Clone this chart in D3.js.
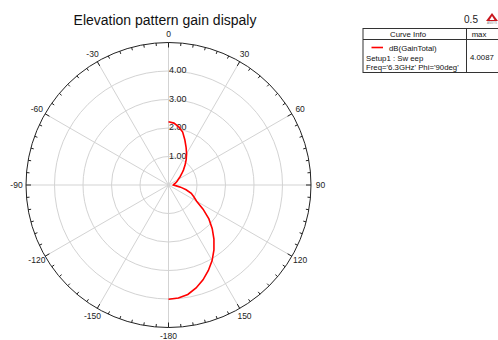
<!DOCTYPE html>
<html>
<head>
<meta charset="utf-8">
<script src="https://cdn.jsdelivr.net/npm/d3@7"></script>
<style>
  body { margin: 0; background: #fff; }
  svg { display: block; font-family: "Liberation Sans", Arial, sans-serif; }
</style>
</head>
<body>
<div id="chart"></div>
<script>
// theta in degrees (0 = top, clockwise), gain in dB
const thetaDeg = [0, 5, 10, 15, 20, 25, 30, 35, 40, 45, 50, 55, 60, 65, 70, 75, 80, 85, 90,
  95, 100, 105, 110, 115, 120, 125, 130, 135, 140, 145, 150, 155, 160, 165, 170, 175, 180];
const gainDb = [2.22, 2.18, 2.07, 1.92, 1.68, 1.46, 1.27, 1.08, 0.9, 0.74, 0.6, 0.49, 0.4, 0.34, 0.29, 0.25, 0.21, 0.18, 0.17,
  0.25, 0.43, 0.64, 0.85, 0.98, 1.14, 1.48, 1.85, 2.17, 2.48, 2.78, 3.06, 3.31, 3.54, 3.74, 3.9, 3.98, 4.01];
const angleLabels = [0, 30, 60, 90, 120, 150, -180, -150, -120, -90, -60, -30];
const ringValues = [1, 2, 3, 4];
const ringLabels = ["1.00", "2.00", "3.00", "4.00"];
const legendRows = ["Setup1 : Sw eep", "Freq='6.3GHz' Phi='90deg'"];
const maxValue = "4.0087";

(() => {
  const width = 498;
  const height = 340;
  const cx = 168.5;
  const cy = 185;
  const outerR = 142.5;

  const r = d3.scaleLinear().domain([0, 5]).range([0, outerR]);
  const rad = (d) => (d * Math.PI) / 180;

  const svg = d3
    .select("#chart")
    .append("svg")
    .attr("width", width)
    .attr("height", height);

  // Title
  svg.append("text")
    .attr("x", 165)
    .attr("y", 25)
    .attr("text-anchor", "middle")
    .style("font-size", "14px")
    .attr("fill", "#111")
    .text("Elevation pattern gain  dispaly");

  const g = svg.append("g").attr("transform", `translate(${cx},${cy})`);

  // grid rings
  g.selectAll(".ring")
    .data(ringValues)
    .join("circle")
    .attr("r", (d) => r(d))
    .attr("fill", "none")
    .attr("stroke", "#d3d3d3")
    .attr("stroke-width", 1);

  // spokes
  const spokes = d3.range(0, 360, 30);
  g.selectAll(".spoke")
    .data(spokes)
    .join("line")
    .attr("x1", 0)
    .attr("y1", 0)
    .attr("x2", (d) => outerR * Math.sin(rad(d)))
    .attr("y2", (d) => -outerR * Math.cos(rad(d)))
    .attr("stroke", "#d3d3d3")
    .attr("stroke-width", 1);

  // outer circle
  g.append("circle")
    .attr("r", outerR)
    .attr("fill", "none")
    .attr("stroke", "#222")
    .attr("stroke-width", 1);

  // ticks (inward)
  g.selectAll(".tick")
    .data(d3.range(0, 360, 5))
    .join("line")
    .attr("x1", (d) => outerR * Math.sin(rad(d)))
    .attr("y1", (d) => -outerR * Math.cos(rad(d)))
    .attr("x2", (d) => (outerR - (d % 30 === 0 ? 5 : 3)) * Math.sin(rad(d)))
    .attr("y2", (d) => -(outerR - (d % 30 === 0 ? 5 : 3)) * Math.cos(rad(d)))
    .attr("stroke", "#222")
    .attr("stroke-width", 1);

  // angle labels
  g.selectAll(".alabel")
    .data(angleLabels)
    .join("text")
    .attr("x", (d) => 152 * Math.sin(rad(d)))
    .attr("y", (d) => -151 * Math.cos(rad(d)))
    .attr("dy", "0.35em")
    .attr("text-anchor", "middle")
    .style("font-size", "8.5px")
    .attr("fill", "#222")
    .text((d) => d);

  // radial labels
  g.selectAll(".rlabel")
    .data(ringValues)
    .join("text")
    .attr("x", 0.5)
    .attr("y", (d) => -r(d) - 1)
    .attr("dy", "0.35em")
    .style("font-size", "9px")
    .attr("fill", "#222")
    .text((d, i) => ringLabels[i]);

  // curve
  const line = d3
    .lineRadial()
    .angle((d, i) => rad(thetaDeg[i]))
    .radius((d) => r(d));

  g.append("path")
    .datum(gainDb)
    .attr("d", line)
    .attr("fill", "none")
    .attr("stroke", "#ff0000")
    .attr("stroke-width", 1.6);

  // Legend table
  const lg = svg.append("g").style("font-size", "7.8px").attr("fill", "#111");
  lg.append("rect")
    .attr("x", 363)
    .attr("y", 28.5)
    .attr("width", 140)
    .attr("height", 44)
    .attr("fill", "#fff")
    .attr("stroke", "#333")
    .attr("stroke-width", 1);
  lg.append("line")
    .attr("x1", 363).attr("x2", 498)
    .attr("y1", 39.5).attr("y2", 39.5)
    .attr("stroke", "#333");
  lg.append("line")
    .attr("x1", 466.5).attr("x2", 466.5)
    .attr("y1", 28.5).attr("y2", 72.5)
    .attr("stroke", "#333");

  lg.append("text")
    .attr("x", 408).attr("y", 37)
    .attr("text-anchor", "middle")
    .text("Curve Info");
  lg.append("text")
    .attr("x", 479).attr("y", 37)
    .attr("text-anchor", "middle")
    .text("max");
  lg.append("line")
    .attr("x1", 371.5).attr("x2", 383)
    .attr("y1", 47.5).attr("y2", 47.5)
    .attr("stroke", "#ff0000")
    .attr("stroke-width", 1.6);
  lg.append("text")
    .attr("x", 389).attr("y", 50.5)
    .text("dB(GainTotal)");
  lg.selectAll(".row")
    .data(legendRows)
    .join("text")
    .attr("x", 366)
    .attr("y", (d, i) => 60.5 + i * 9)
    .text((d) => d);
  lg.append("text")
    .attr("x", 470).attr("y", 60)
    .text(maxValue);

  // scale value and logo
  svg.append("text")
    .attr("x", 471).attr("y", 23)
    .attr("text-anchor", "middle")
    .style("font-size", "10px")
    .attr("fill", "#222")
    .text("0.5");
  svg.append("path")
    .attr("d", "M492,13 L498,21 L486,21 Z")
    .attr("fill", "#c8161d");
  svg.append("path")
    .attr("d", "M492,16 L494.5,20 L489.5,20 Z")
    .attr("fill", "#fff");
  svg.append("text")
    .attr("x", 492).attr("y", 24)
    .attr("text-anchor", "middle")
    .style("font-size", "3px")
    .attr("fill", "#888")
    .text("ANSYS");
})();
</script>
</body>
</html>
